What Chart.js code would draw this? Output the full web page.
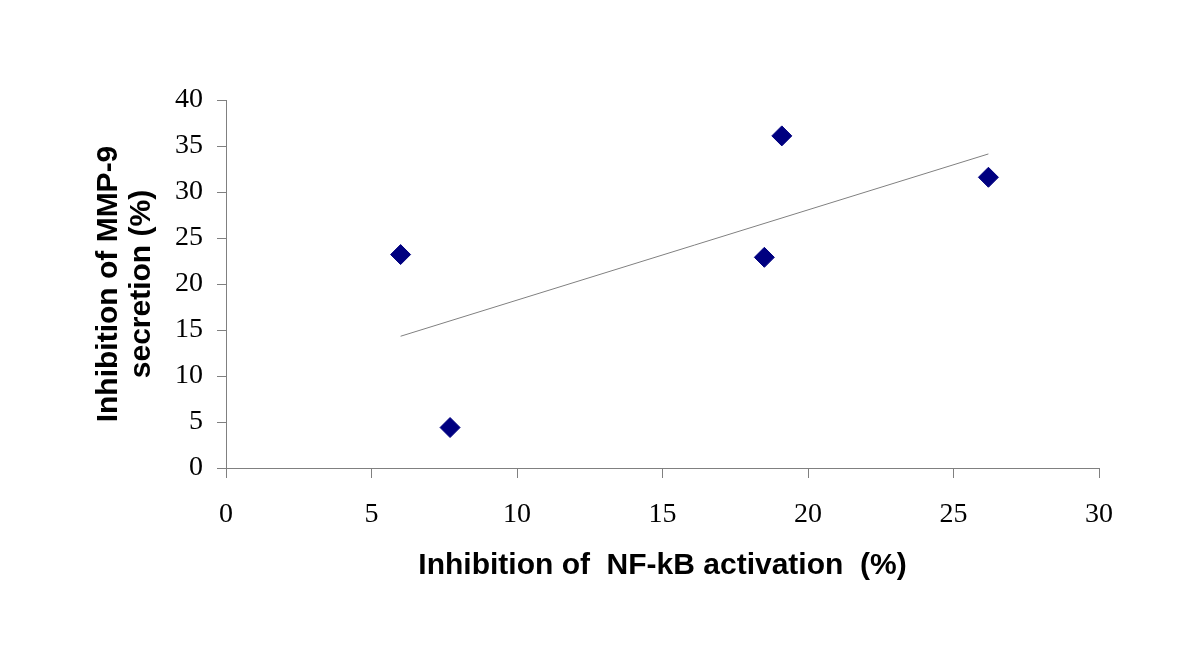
<!DOCTYPE html>
<html>
<head>
<meta charset="utf-8">
<script src="https://cdn.jsdelivr.net/npm/chart.js@4"></script>
<style>
  body { margin: 0; background: #fff; }
  #wrap { width: 1200px; height: 666px; }
</style>
</head>
<body>
<div id="wrap"><canvas id="scatterChart" width="1200" height="666"></canvas></div>
<script>
// values
const nfkbInhibition = [6.0, 7.7, 18.5, 19.1, 26.2];
const mmp9Inhibition = [23.2, 4.4, 22.9, 36.1, 31.6];
const xTicks = [0, 5, 10, 15, 20, 25, 30];
const yTicks = [0, 5, 10, 15, 20, 25, 30, 35, 40];
const xTitle = 'Inhibition of  NF-kB activation  (%)';
const yTitle = ['Inhibition of MMP-9', 'secretion (%)'];

const AXIS_GREY = '#808080';

// linear trendline (least squares), spans min x to max x like Excel
function linearTrend(xs, ys) {
    const n = xs.length;
    const mx = xs.reduce((a, b) => a + b, 0) / n;
    const my = ys.reduce((a, b) => a + b, 0) / n;
    let sxy = 0, sxx = 0;
    for (let i = 0; i < n; i++) {
        sxy += (xs[i] - mx) * (ys[i] - my);
        sxx += (xs[i] - mx) * (xs[i] - mx);
    }
    const slope = sxy / sxx;
    const x0 = Math.min(...xs), x1 = Math.max(...xs);
    return [
        { x: x0, y: my + slope * (x0 - mx) },
        { x: x1, y: my + slope * (x1 - mx) }
    ];
}

const points = nfkbInhibition.map((x, i) => ({ x: x, y: mmp9Inhibition[i] }));
const trend = linearTrend(nfkbInhibition, mmp9Inhibition);

const ctx = document.getElementById('scatterChart').getContext('2d');
new Chart(ctx, {
    type: 'scatter',
    data: {
        datasets: [{
            label: 'trend',
            type: 'line',
            data: trend,
            borderColor: AXIS_GREY,
            borderWidth: 1,
            pointRadius: 0,
            fill: false
        }, {
            label: 'data',
            data: points,
            pointStyle: 'rectRot',
            pointRadius: 10,
            backgroundColor: '#000080',
            borderColor: '#000080',
            borderWidth: 1
        }]
    },
    options: {
        responsive: false,
        animation: false,
        layout: { padding: { top: 100, right: 101, left: 0, bottom: 0 } },
        plugins: { legend: { display: false }, tooltip: { enabled: false } },
        scales: {
            x: {
                type: 'linear',
                min: 0,
                max: 30,
                afterBuildTicks: s => { s.ticks = xTicks.map(v => ({ value: v })); },
                afterFit: s => { s.height = 198; },
                border: { display: true, color: AXIS_GREY, width: 1 },
                grid: { drawOnChartArea: false, drawTicks: true, tickLength: 10, color: AXIS_GREY },
                ticks: {
                    color: '#000',
                    padding: 20,
                    font: { family: '"Liberation Serif", "Times New Roman", serif', size: 28 }
                },
                title: {
                    display: true,
                    text: xTitle,
                    color: '#000',
                    padding: { top: 0, bottom: 84 },
                    font: { family: '"Liberation Sans", Arial, sans-serif', size: 30, weight: 'bold', lineHeight: 1.1 }
                }
            },
            y: {
                type: 'linear',
                min: 0,
                max: 40,
                afterBuildTicks: s => { s.ticks = yTicks.map(v => ({ value: v })); },
                afterFit: s => { s.width = 226; },
                border: { display: true, color: AXIS_GREY, width: 1 },
                grid: { drawOnChartArea: false, drawTicks: true, tickLength: 9, color: AXIS_GREY },
                ticks: {
                    color: '#000',
                    padding: 14,
                    font: { family: '"Liberation Serif", "Times New Roman", serif', size: 28 }
                },
                title: {
                    display: true,
                    text: yTitle,
                    color: '#000',
                    padding: { top: 92, bottom: 0 },
                    font: { family: '"Liberation Sans", Arial, sans-serif', size: 30, weight: 'bold', lineHeight: 1.1 }
                }
            }
        }
    }
});
</script>
</body>
</html>
